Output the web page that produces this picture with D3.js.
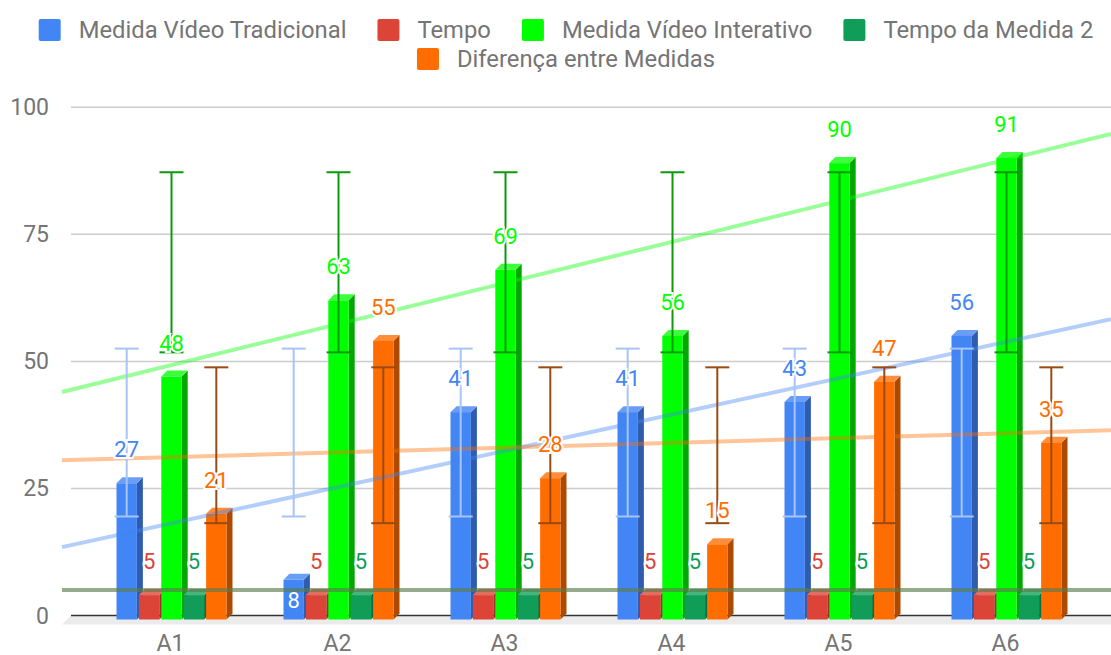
<!DOCTYPE html>
<html>
<head>
<meta charset="utf-8">
<script src="https://cdn.jsdelivr.net/npm/d3@7"></script>
<style>
  body { margin: 0; background: #fff; }
  text { font-family: Roboto, "Noto Sans", sans-serif; }
</style>
</head>
<body>
<div id="chart"></div>
<script>
// dados
var categorias = ["A1", "A2", "A3", "A4", "A5", "A6"];
var nomesSeries = ["Medida Vídeo Tradicional", "Tempo", "Medida Vídeo Interativo", "Tempo da Medida 2", "Diferença entre Medidas"];
var videoTradicional = [27, 8, 41, 41, 43, 56];
var tempo = [5, 5, 5, 5, 5, 5];
var videoInterativo = [48, 63, 69, 56, 90, 91];
var tempoMedida2 = [5, 5, 5, 5, 5, 5];
var diferenca = [21, 55, 28, 15, 47, 35];
var yTicks = [0, 25, 50, 75, 100];

// cores: frente, lado, topo
var cores = [
  {front: "#4285f4", side: "#2f5cad", top: "#6a9ef6", err: "#a8c4f5"},
  {front: "#db4437", side: "#9c3027", top: "#e46d62", err: null},
  {front: "#00ff00", side: "#00a800", top: "#3dff3d", err: "#0a9a0a"},
  {front: "#0f9d58", side: "#0a6e3e", top: "#45b57d", err: null},
  {front: "#ff6d00", side: "#ad4a00", top: "#ff8d3a", err: "#9a4a12"}
];
var valores = [videoTradicional, tempo, videoInterativo, tempoMedida2, diferenca];

var width = 1111, height = 655;
var depth = 6;      // profundidade 3D da barra
var floorDepth = 9; // profundidade do "chão"

var svg = d3.select("#chart").append("svg")
  .attr("width", width)
  .attr("height", height);

// escalas
var x0 = d3.scaleBand().domain(categorias).range([88, 1090]);
var x1 = d3.scaleBand().domain(nomesSeries)
  .range([x0.bandwidth() / 2 - 55, x0.bandwidth() / 2 + 55])
  .paddingInner(0.09).paddingOuter(0);
var y = d3.scaleLinear().domain([0, 100]).range([615.5, 107.3]);

// linhas de grade
svg.append("g").selectAll("line")
  .data(yTicks.filter(function(d) { return d > 0; }))
  .enter().append("line")
  .attr("x1", 71).attr("x2", width)
  .attr("y1", function(d) { return y(d); })
  .attr("y2", function(d) { return y(d); })
  .attr("stroke", "#cccccc")
  .attr("stroke-width", 1.5);

// chão
svg.append("path")
  .attr("d", "M" + (71 - floorDepth) + "," + (y(0) + floorDepth) + "L71," + y(0) + "L" + width + "," + y(0) + "L" + width + "," + (y(0) + floorDepth) + "Z")
  .attr("fill", "#ebebeb");
svg.append("line")
  .attr("x1", 71).attr("x2", width)
  .attr("y1", y(0)).attr("y2", y(0))
  .attr("stroke", "#333").attr("stroke-width", 1.5);

// rótulos do eixo y
svg.append("g").selectAll("text")
  .data(yTicks)
  .enter().append("text")
  .attr("x", 49)
  .attr("y", function(d) { return y(d) + 8; })
  .attr("text-anchor", "end")
  .attr("font-size", "23px")
  .attr("fill", "#757575")
  .text(function(d) { return d; });

// rótulos do eixo x
svg.append("g").selectAll("text")
  .data(categorias)
  .enter().append("text")
  .attr("x", function(d) { return x0(d) + x0.bandwidth() / 2 - 1; })
  .attr("y", 651)
  .attr("text-anchor", "middle")
  .attr("font-size", "23px")
  .attr("fill", "#757575")
  .text(function(d) { return d; });

// monta os dados das barras
var barras = [];
categorias.forEach(function(c, i) {
  nomesSeries.forEach(function(s, j) {
    barras.push({cat: c, serie: s, si: j, value: valores[j][i]});
  });
});

function bx(d) { return x0(d.cat) + x1(d.serie); }
function topY(d) { return y(d.value) + 5; }
var bottomY = y(0) + 4;

// barras 3D
var g = svg.append("g").selectAll("g")
  .data(barras)
  .enter().append("g");

g.append("path") // lado
  .attr("d", function(d) {
    var x = bx(d) + x1.bandwidth(), t = topY(d);
    return "M" + x + "," + t + "L" + (x + depth) + "," + (t - depth) + "L" + (x + depth) + "," + (bottomY - depth) + "L" + x + "," + bottomY + "Z";
  })
  .attr("fill", function(d) { return cores[d.si].side; });

g.append("path") // topo
  .attr("d", function(d) {
    var x = bx(d), t = topY(d), w = x1.bandwidth();
    return "M" + x + "," + t + "L" + (x + depth) + "," + (t - depth) + "L" + (x + w + depth) + "," + (t - depth) + "L" + (x + w) + "," + t + "Z";
  })
  .attr("fill", function(d) { return cores[d.si].top; });

g.append("rect") // frente
  .attr("x", bx)
  .attr("y", topY)
  .attr("width", x1.bandwidth())
  .attr("height", function(d) { return bottomY - topY(d); })
  .attr("fill", function(d) { return cores[d.si].front; });

// linhas de tendência (regressão linear)
var xNum = d3.scaleLinear().domain([0, categorias.length - 1])
  .range([x0(categorias[0]) + x0.bandwidth() / 2, x0(categorias[categorias.length - 1]) + x0.bandwidth() / 2]);

valores.forEach(function(vals, j) {
  var mx = d3.mean(vals, function(d, i) { return i; });
  var my = d3.mean(vals);
  var sxy = d3.sum(vals, function(d, i) { return (i - mx) * (d - my); });
  var sxx = d3.sum(vals, function(d, i) { return (i - mx) * (i - mx); });
  var b = sxy / sxx, a = my - b * mx;
  var xa = 71 - floorDepth, xb = width;
  svg.append("line")
    .attr("x1", xa).attr("x2", xb)
    .attr("y1", y(a + b * xNum.invert(xa)))
    .attr("y2", y(a + b * xNum.invert(xb)))
    .attr("stroke", cores[j].front)
    .attr("stroke-opacity", 0.4)
    .attr("stroke-width", 4);
});

// barras de erro (média ± desvio padrão)
valores.forEach(function(vals, j) {
  if (!cores[j].err) return;
  var m = d3.mean(vals), sd = d3.deviation(vals);
  var eg = svg.append("g").selectAll("g")
    .data(barras.filter(function(d) { return d.si === j; }))
    .enter().append("g")
    .attr("stroke", cores[j].err)
    .attr("stroke-width", 2);
  var cx = function(d) { return bx(d) + x1.bandwidth() / 2; };
  eg.append("line")
    .attr("x1", cx).attr("x2", cx)
    .attr("y1", y(m - sd)).attr("y2", y(m + sd));
  [m - sd, m + sd].forEach(function(v) {
    eg.append("line")
      .attr("x1", function(d) { return cx(d) - 12; })
      .attr("x2", function(d) { return cx(d) + 12; })
      .attr("y1", y(v)).attr("y2", y(v));
  });
});

// rótulos de valores
svg.append("g").selectAll("text")
  .data(barras)
  .enter().append("text")
  .attr("x", function(d) { return bx(d) + x1.bandwidth() / 2; })
  .attr("y", function(d) {
    if (d.si === 0 && d.value < 10) return (topY(d) + bottomY) / 2 + 8;
    return y(d.value) - 21;
  })
  .attr("text-anchor", "middle")
  .attr("font-size", "22px")
  .attr("fill", function(d) { return (d.si === 0 && d.value < 10) ? "#fff" : cores[d.si].front; })
  .attr("stroke", function(d) { return (d.si === 0 && d.value < 10) ? "none" : "#fff"; })
  .attr("stroke-width", 4)
  .attr("paint-order", "stroke")
  .text(function(d) { return d.value; });

// legenda
var linhas = [nomesSeries.slice(0, 4), nomesSeries.slice(4)];
var centro = 566;
var gap = 31;
linhas.forEach(function(itens, r) {
  var lg = svg.append("g");
  var cx = 0;
  itens.forEach(function(nome, k) {
    var j = nomesSeries.indexOf(nome);
    var item = lg.append("g").attr("transform", "translate(" + cx + ",0)");
    item.append("rect")
      .attr("x", 0).attr("y", -11)
      .attr("width", 22).attr("height", 22)
      .attr("rx", 2)
      .attr("fill", cores[j].front);
    var t = item.append("text")
      .attr("x", 40).attr("y", 8)
      .attr("font-size", "23.8px")
      .attr("fill", "#757575")
      .text(nome);
    cx += 40 + t.node().getComputedTextLength() + gap;
  });
  var total = cx - gap;
  lg.attr("transform", "translate(" + (centro - total / 2) + "," + (30 + r * 29) + ")");
});
</script>
</body>
</html>
